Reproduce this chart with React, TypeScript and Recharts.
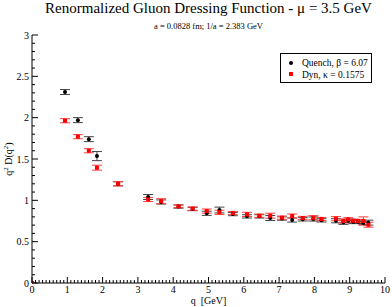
import React from 'react';
import { ScatterChart, Scatter, XAxis, YAxis, ErrorBar } from 'recharts';

const qValues = [0, 0.935, 1.30, 1.61, 1.84, 2.44, 3.29, 3.66, 4.15, 4.55, 4.95, 5.31, 5.69, 6.09, 6.44, 6.75, 7.08, 7.37, 7.67, 7.97, 8.20, 8.61, 8.82, 8.96, 9.10, 9.24, 9.39, 9.53];
const quenchValues = [0, 2.31, 1.97, 1.74, 1.535, 1.20, 1.04, 0.98, 0.925, 0.895, 0.843, 0.883, 0.834, 0.806, 0.806, 0.786, 0.78, 0.762, 0.77, 0.774, 0.758, 0.753, 0.734, 0.753, 0.738, 0.74, 0.726, 0.73];
const quenchErrors = [0, 0.03, 0.03, 0.03, 0.055, 0.025, 0.03, 0.025, 0.02, 0.02, 0.025, 0.035, 0.02, 0.02, 0.02, 0.03, 0.02, 0.025, 0.02, 0.025, 0.02, 0.025, 0.025, 0.02, 0.02, 0.02, 0.02, 0.03];
const dynValues = [0, 1.963, 1.77, 1.60, 1.395, 1.20, 1.01, 0.99, 0.927, 0.90, 0.87, 0.855, 0.846, 0.83, 0.814, 0.814, 0.79, 0.81, 0.786, 0.79, 0.774, 0.778, 0.75, 0.77, 0.753, 0.75, 0.75, 0.705];
const dynErrors = [0, 0.025, 0.025, 0.025, 0.03, 0.025, 0.025, 0.03, 0.015, 0.02, 0.025, 0.025, 0.02, 0.025, 0.02, 0.03, 0.02, 0.025, 0.02, 0.025, 0.02, 0.025, 0.025, 0.02, 0.02, 0.02, 0.05, 0.03];

const xTicks = Array.from({ length: 101 }, (_, i) => Math.round(i) / 10);
const yTicks = Array.from({ length: 31 }, (_, i) => Math.round(i) / 10);
const xTickLabels = ['0', '1', '2', '3', '4', '5', '6', '7', '8', '9', '10'];
const yTickLabels = ['0', '0.5', '1', '1.5', '2', '2.5', '3'];

const quenchData = qValues.map((q, i) => ({ q, v: quenchValues[i], e: quenchErrors[i] }));
const dynData = qValues.map((q, i) => ({ q, v: dynValues[i], e: dynErrors[i] }));

const FONT = 'Liberation Serif, Times New Roman, DejaVu Serif, serif';
const isInt = (v: number) => Math.abs(v - Math.round(v)) < 1e-6;
const isHalf = (v: number) => Math.abs(v * 2 - Math.round(v * 2)) < 1e-6;
const txt = (size: number) => ({ fontFamily: FONT, fontSize: size });

const BottomTick = (props: any) => {
  const { x, y, payload } = props;
  const v = payload.value;
  const major = isInt(v);
  return (
    <g>
      <line x1={x} x2={x} y1={y} y2={y - (major ? 6 : 3)} stroke="#000" strokeWidth={1} />
      {major && (
        <text x={x} y={y + 10} textAnchor="middle" style={txt(10)} fill="#000">
          {xTickLabels[Math.round(v)]}
        </text>
      )}
    </g>
  );
};
const TopTick = (props: any) => {
  const { x, y, payload } = props;
  const major = isInt(payload.value);
  return <line x1={x} x2={x} y1={y} y2={y + (major ? 6 : 3)} stroke="#000" strokeWidth={1} />;
};
const LeftTick = (props: any) => {
  const { x, y, payload } = props;
  const v = payload.value;
  const major = isHalf(v);
  return (
    <g>
      <line x1={x} x2={x + (major ? 6 : 3)} y1={y} y2={y} stroke="#000" strokeWidth={1} />
      {major && (
        <text x={x - 3} y={y + 3.5} textAnchor="end" style={txt(10)} fill="#000">
          {yTickLabels[Math.round(v * 2)]}
        </text>
      )}
    </g>
  );
};
const RightTick = (props: any) => {
  const { x, y, payload } = props;
  const major = isHalf(payload.value);
  return <line x1={x} x2={x - (major ? 6 : 3)} y1={y} y2={y} stroke="#000" strokeWidth={1} />;
};

const Dot = (props: any) => <circle cx={props.cx} cy={props.cy} r={2} fill="#000" />;
const Sq = (props: any) => <rect x={props.cx - 2} y={props.cy - 2} width={4} height={4} fill="#ff0000" />;

export default function App() {
  return (
    <div style={{ position: 'absolute', left: 0, top: 0, width: 392, height: 307, background: '#fff' }}>
      <ScatterChart width={392} height={307} margin={{ top: 35, right: 7, bottom: 0, left: 0 }}>
        <XAxis dataKey="q" type="number" domain={[0, 10]} ticks={xTicks} interval={0} tick={BottomTick}
          tickSize={0} tickMargin={0} height={24} axisLine={{ stroke: '#000' }} allowDataOverflow />
        <XAxis xAxisId="top" orientation="top" dataKey="q" type="number" domain={[0, 10]} ticks={xTicks} interval={0}
          tick={TopTick} tickSize={0} tickMargin={0} height={0} axisLine={{ stroke: '#000' }} allowDataOverflow />
        <YAxis dataKey="v" type="number" domain={[0, 3]} ticks={yTicks} interval={0} tick={LeftTick}
          tickSize={0} tickMargin={0} width={32} axisLine={{ stroke: '#000' }} allowDataOverflow />
        <YAxis yAxisId="right" orientation="right" dataKey="v" type="number" domain={[0, 3]} ticks={yTicks} interval={0}
          tick={RightTick} tickSize={0} tickMargin={0} width={0} axisLine={{ stroke: '#000' }} allowDataOverflow />
        <Scatter data={quenchData} shape={Dot} isAnimationActive={false}>
          <ErrorBar dataKey="e" direction="y" width={5} stroke="#444" strokeWidth={1} />
        </Scatter>
        <Scatter data={dynData} shape={Sq} isAnimationActive={false}>
          <ErrorBar dataKey="e" direction="y" width={5} stroke="#ff4040" strokeWidth={1} />
        </Scatter>
      </ScatterChart>
      <svg width={392} height={307} style={{ position: 'absolute', left: 0, top: 0, pointerEvents: 'none' }}>
        <text x={208.5} y={13} textAnchor="middle" style={txt(15)} fill="#000">
          Renormalized Gluon Dressing Function - μ = 3.5 GeV
        </text>
        <text x={208.5} y={29} textAnchor="middle" style={txt(8.5)} fill="#000">
          a = 0.0828 fm; 1/a = 2.383 GeV
        </text>
        <text x={208.5} y={304} textAnchor="middle" style={{ ...txt(10), whiteSpace: 'pre' }} fill="#000">
          {'q  [GeV]'}
        </text>
        <text transform="translate(12,159) rotate(-90)" textAnchor="middle" style={txt(10)} fill="#000">
          q<tspan dy={-4} fontSize={7}>2</tspan><tspan dy={4}> D(q</tspan><tspan dy={-4} fontSize={7}>2</tspan><tspan dy={4}>)</tspan>
        </text>
        <rect x={280.5} y={53.5} width={91} height={29} fill="#fff" stroke="#000" strokeWidth={1} />
        <circle cx={291} cy={63} r={2} fill="#000" />
        <text x={302} y={66} style={txt(9.5)} fill="#000">Quench, β = 6.07</text>
        <rect x={289} y={72} width={4} height={4} fill="#ff0000" />
        <text x={302} y={77.5} style={txt(9.5)} fill="#000">Dyn, κ = 0.1575</text>
      </svg>
    </div>
  );
}
